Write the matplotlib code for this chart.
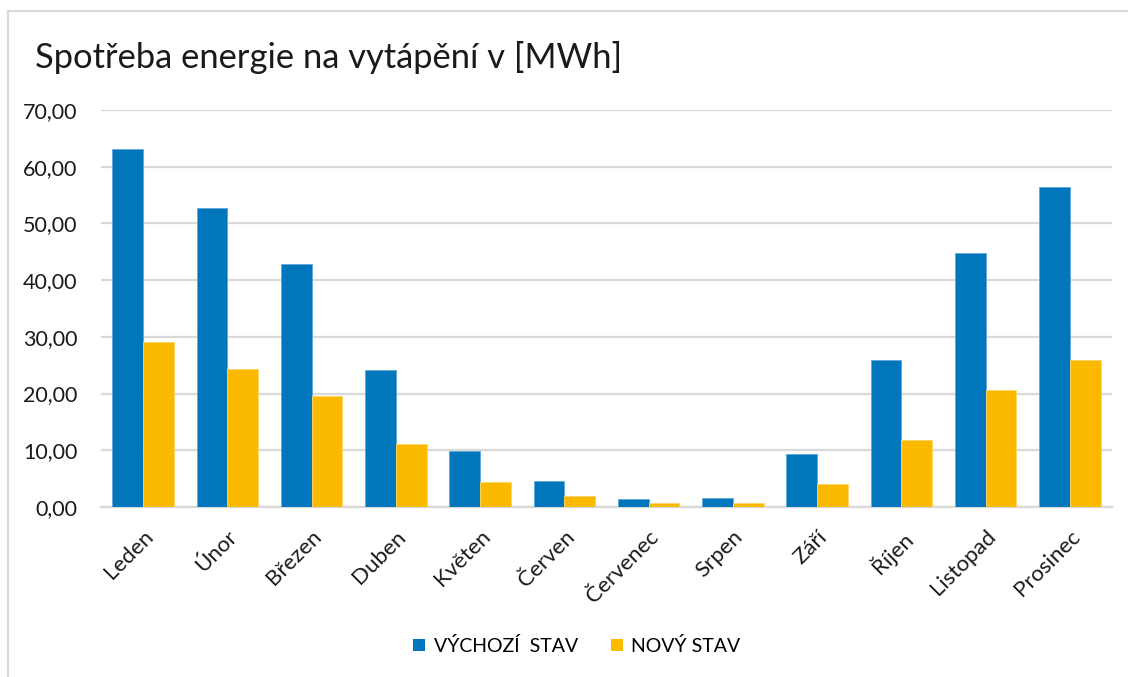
import numpy as np
import matplotlib.pyplot as plt
from matplotlib.lines import Line2D
from matplotlib.patches import Patch

plt.rcParams['font.family'] = ['Lato', 'DejaVu Sans']

# Monthly heating energy, MWh
months = ['Leden', 'Únor', 'Březen', 'Duben', 'Květen', 'Červen',
          'Červenec', 'Srpen', 'Září', 'Říjen', 'Listopad', 'Prosinec']
vychozi = [63.1, 52.7, 42.8, 24.1, 9.9, 4.5, 1.4, 1.6, 9.4, 25.9, 44.7, 56.4]
novy = [29.1, 24.3, 19.6, 11.1, 4.4, 2.0, 0.7, 0.7, 4.1, 11.9, 20.6, 25.9]
series_names = ['VÝCHOZÍ  STAV', 'NOVÝ STAV']

blue = '#0077BC'
yellow = '#FBBA00'
grid = '#D9D9D9'

W, H = 1128, 677
fig = plt.figure(figsize=(W / 100, H / 100), dpi=100)
ax = fig.add_axes([101 / W, 1 - 507 / H, (1112 - 101) / W, (507 - 110) / H])

x = np.arange(len(months))
bw = 0.364
ax.bar(x - bw / 2, vychozi, bw, color=blue, edgecolor='#5FA8DA', linewidth=0.6, zorder=3)
ax.bar(x + bw / 2, novy, bw, color=yellow, edgecolor='#FDD566', linewidth=0.6, zorder=3)

ax.set_xlim(-0.5, len(months) - 0.5)
ax.set_ylim(0, 70)
ax.set_yticks(np.arange(0, 71, 10))
ax.set_yticklabels([f'{v:.2f}'.replace('.', ',') for v in np.arange(0, 71, 10)],
                   fontsize=15.5, color='#1a1a1a')
ax.yaxis.grid(True, color=grid, linewidth=1.6, zorder=0)
for s in ['top', 'right', 'left']:
    ax.spines[s].set_visible(False)
ax.spines['bottom'].set_color(grid)
ax.spines['bottom'].set_linewidth(1.6)
ax.tick_params(axis='y', length=0, pad=17)
ax.tick_params(axis='x', length=0, pad=14)

ax.set_xticks(x)
ax.set_xticklabels(months, rotation=45, ha='right', rotation_mode='anchor',
                   fontsize=16, color='#1a1a1a')

fig.text(35 / W, 1 - 58 / H, 'Spotřeba energie na vytápění v [MWh]',
         fontsize=24.8, va='center', ha='left', color='#1a1a1a')

handles = [Patch(facecolor=blue), Patch(facecolor=yellow)]
fig.legend(handles, series_names, loc='center', bbox_to_anchor=(577 / W, 1 - 646 / H),
           ncol=2, frameon=False, fontsize=14, handlelength=0.6, handleheight=0.6,
           handletextpad=0.45, columnspacing=1.7)

# light chart frame on the left and top
fig.add_artist(Line2D([7.5 / W, 7.5 / W], [0, 1 - 11 / H], color=grid, linewidth=1.5))
fig.add_artist(Line2D([7.5 / W, 1], [1 - 11 / H, 1 - 11 / H], color=grid, linewidth=1.5))

plt.savefig('out.png', dpi=100)
